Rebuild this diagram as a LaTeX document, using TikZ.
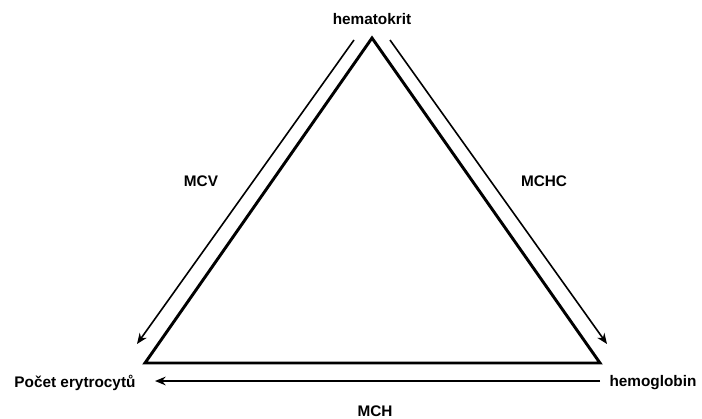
\documentclass[tikz,border=0pt]{standalone}
\usepackage{fontspec}
\setmainfont{Liberation Sans}
\usetikzlibrary{arrows.meta}
\begin{document}
\begin{tikzpicture}[x=0.75pt,y=-0.75pt,
    lbl/.style={font=\fontsize{11.5}{13}\selectfont\bfseries, inner sep=0pt, anchor=base},
    side/.style={line width=2.2pt, line join=miter},
    flow/.style={line width=1.2pt, -{Stealth[length=8pt,width=6.5pt]}}]
  \useasboundingbox (0,0) rectangle (702,418);
  % corners of the triangle
  \coordinate (apex) at (372,38);
  \coordinate (bl) at (145,363);
  \coordinate (br) at (600,363);
  \draw[side] (apex) -- (bl) -- (br) -- cycle;
  % labels
  \node[lbl] (hct) at (372,24) {hematokrit};
  \node[lbl] (ery) at (75,387) {Počet erytrocytů};
  \node[lbl] (hgb) at (653,386) {hemoglobin};
  \node[lbl] (mcv) at (201,186) {MCV};
  \node[lbl] (mchc) at (544,186) {MCHC};
  \node[lbl] (mch) at (375,416) {MCH};
  % arrows along the sides
  \coordinate (mcvA) at (354,40);
  \coordinate (mcvB) at (137,344);
  \coordinate (mchcA) at (390,40);
  \coordinate (mchcB) at (607,344);
  \coordinate (mchA) at (600,381);
  \coordinate (mchB) at (155,381);
  \draw[flow] (mcvA) -- (mcvB);
  \draw[flow] (mchcA) -- (mchcB);
  \draw[flow] (mchA) -- (mchB);
\end{tikzpicture}
\end{document}
